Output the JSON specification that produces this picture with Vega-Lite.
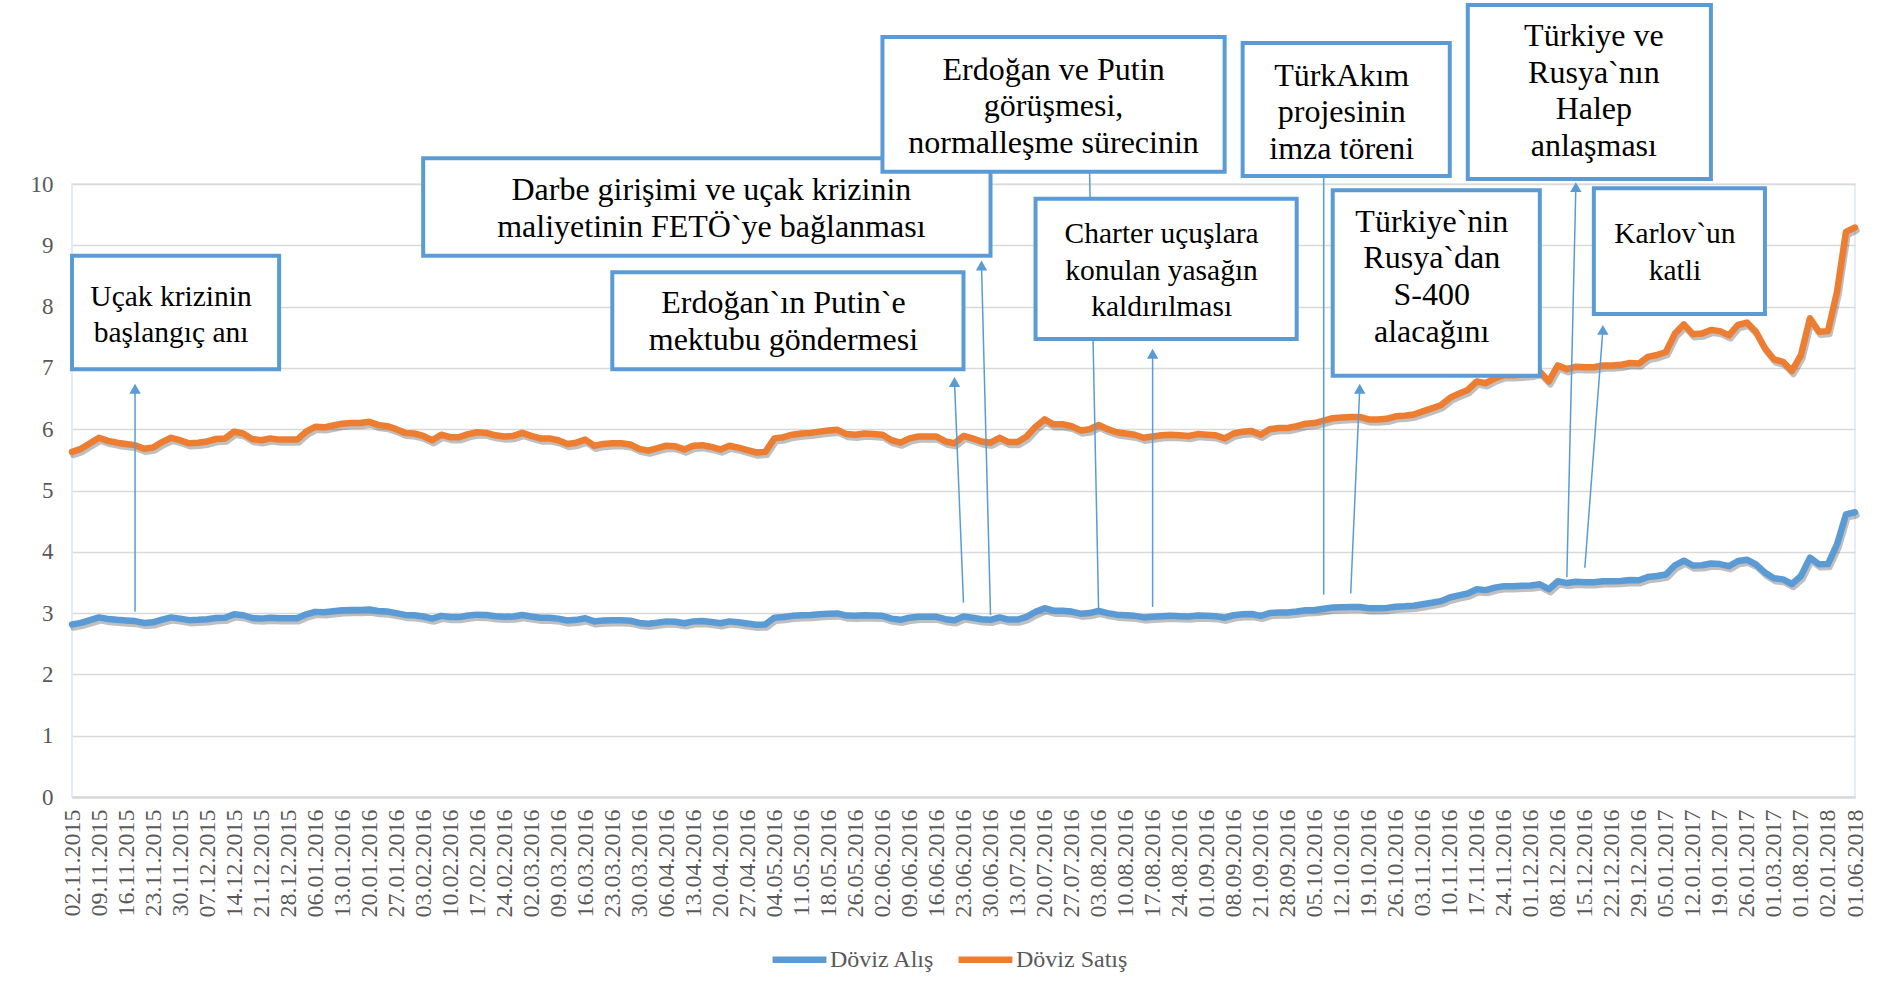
{
"$schema": "https://vega.github.io/schema/vega-lite/v6.json",
"width": 1783,
"height": 613,
"autosize": {"type": "none"},
"padding": {"left": 72, "top": 184, "right": 30, "bottom": 198},
"background": "white",
"config": {
  "view": {"stroke": "#dce6f2", "strokeWidth": 1.5},
  "font": "Liberation Serif",
  "axis": {"labelFont": "Liberation Serif", "labelColor": "#595959", "ticks": false}
},
"datasets": {
"kur": [
{"d":"02.11.2015","alis":2.815,"satis":5.63},{"d":"04.11.2015","alis":2.84,"satis":5.68},{"d":"06.11.2015","alis":2.885,"satis":5.77},
{"d":"09.11.2015","alis":2.93,"satis":5.86},{"d":"11.11.2015","alis":2.905,"satis":5.81},{"d":"13.11.2015","alis":2.89,"satis":5.78},
{"d":"16.11.2015","alis":2.88,"satis":5.76},{"d":"18.11.2015","alis":2.87,"satis":5.74},{"d":"20.11.2015","alis":2.84,"satis":5.68},
{"d":"23.11.2015","alis":2.85,"satis":5.70},{"d":"25.11.2015","alis":2.895,"satis":5.79},{"d":"27.11.2015","alis":2.93,"satis":5.86},
{"d":"30.11.2015","alis":2.91,"satis":5.82},{"d":"02.12.2015","alis":2.885,"satis":5.77},{"d":"04.12.2015","alis":2.89,"satis":5.78},
{"d":"07.12.2015","alis":2.90,"satis":5.80},{"d":"09.12.2015","alis":2.92,"satis":5.84},{"d":"11.12.2015","alis":2.925,"satis":5.85},
{"d":"14.12.2015","alis":2.98,"satis":5.96},{"d":"16.12.2015","alis":2.965,"satis":5.93},{"d":"18.12.2015","alis":2.92,"satis":5.84},
{"d":"21.12.2015","alis":2.91,"satis":5.82},{"d":"23.12.2015","alis":2.925,"satis":5.85},{"d":"25.12.2015","alis":2.915,"satis":5.83},
{"d":"28.12.2015","alis":2.915,"satis":5.83},{"d":"30.12.2015","alis":2.915,"satis":5.83},{"d":"04.01.2016","alis":2.98,"satis":5.96},
{"d":"06.01.2016","alis":3.02,"satis":6.04},{"d":"08.01.2016","alis":3.015,"satis":6.03},{"d":"11.01.2016","alis":3.03,"satis":6.06},
{"d":"13.01.2016","alis":3.045,"satis":6.09},{"d":"15.01.2016","alis":3.05,"satis":6.10},{"d":"18.01.2016","alis":3.05,"satis":6.10},
{"d":"20.01.2016","alis":3.06,"satis":6.12},{"d":"22.01.2016","alis":3.035,"satis":6.07},{"d":"25.01.2016","alis":3.025,"satis":6.05},
{"d":"27.01.2016","alis":3.00,"satis":6.00},{"d":"29.01.2016","alis":2.97,"satis":5.94},{"d":"01.02.2016","alis":2.965,"satis":5.93},
{"d":"03.02.2016","alis":2.945,"satis":5.89},{"d":"05.02.2016","alis":2.91,"satis":5.82},{"d":"08.02.2016","alis":2.955,"satis":5.91},
{"d":"10.02.2016","alis":2.935,"satis":5.87},{"d":"12.02.2016","alis":2.935,"satis":5.87},{"d":"15.02.2016","alis":2.96,"satis":5.92},
{"d":"17.02.2016","alis":2.975,"satis":5.95},{"d":"19.02.2016","alis":2.97,"satis":5.94},{"d":"22.02.2016","alis":2.95,"satis":5.90},
{"d":"24.02.2016","alis":2.94,"satis":5.88},{"d":"26.02.2016","alis":2.945,"satis":5.89},{"d":"29.02.2016","alis":2.97,"satis":5.94},
{"d":"02.03.2016","alis":2.945,"satis":5.89},{"d":"04.03.2016","alis":2.925,"satis":5.85},{"d":"07.03.2016","alis":2.925,"satis":5.85},
{"d":"09.03.2016","alis":2.91,"satis":5.82},{"d":"11.03.2016","alis":2.88,"satis":5.76},{"d":"14.03.2016","alis":2.89,"satis":5.78},
{"d":"16.03.2016","alis":2.915,"satis":5.83},{"d":"18.03.2016","alis":2.865,"satis":5.73},{"d":"21.03.2016","alis":2.88,"satis":5.76},
{"d":"23.03.2016","alis":2.885,"satis":5.77},{"d":"25.03.2016","alis":2.885,"satis":5.77},{"d":"28.03.2016","alis":2.875,"satis":5.75},
{"d":"30.03.2016","alis":2.84,"satis":5.68},{"d":"01.04.2016","alis":2.825,"satis":5.65},{"d":"04.04.2016","alis":2.845,"satis":5.69},
{"d":"06.04.2016","alis":2.865,"satis":5.73},{"d":"08.04.2016","alis":2.86,"satis":5.72},{"d":"11.04.2016","alis":2.835,"satis":5.67},
{"d":"13.04.2016","alis":2.865,"satis":5.73},{"d":"15.04.2016","alis":2.87,"satis":5.74},{"d":"18.04.2016","alis":2.855,"satis":5.71},
{"d":"20.04.2016","alis":2.835,"satis":5.67},{"d":"22.04.2016","alis":2.865,"satis":5.73},{"d":"25.04.2016","alis":2.85,"satis":5.70},
{"d":"27.04.2016","alis":2.83,"satis":5.66},{"d":"29.04.2016","alis":2.81,"satis":5.62},{"d":"02.05.2016","alis":2.815,"satis":5.63},
{"d":"04.05.2016","alis":2.925,"satis":5.85},{"d":"06.05.2016","alis":2.935,"satis":5.87},{"d":"09.05.2016","alis":2.955,"satis":5.91},
{"d":"11.05.2016","alis":2.965,"satis":5.93},{"d":"13.05.2016","alis":2.97,"satis":5.94},{"d":"16.05.2016","alis":2.98,"satis":5.96},
{"d":"18.05.2016","alis":2.99,"satis":5.98},{"d":"20.05.2016","alis":2.995,"satis":5.99},{"d":"24.05.2016","alis":2.96,"satis":5.92},
{"d":"26.05.2016","alis":2.955,"satis":5.91},{"d":"30.05.2016","alis":2.965,"satis":5.93},{"d":"31.05.2016","alis":2.96,"satis":5.92},
{"d":"02.06.2016","alis":2.955,"satis":5.91},{"d":"06.06.2016","alis":2.91,"satis":5.82},{"d":"07.06.2016","alis":2.89,"satis":5.78},
{"d":"09.06.2016","alis":2.925,"satis":5.85},{"d":"13.06.2016","alis":2.94,"satis":5.88},{"d":"14.06.2016","alis":2.94,"satis":5.88},
{"d":"16.06.2016","alis":2.94,"satis":5.88},{"d":"20.06.2016","alis":2.90,"satis":5.80},{"d":"21.06.2016","alis":2.885,"satis":5.77},
{"d":"23.06.2016","alis":2.945,"satis":5.89},{"d":"27.06.2016","alis":2.925,"satis":5.85},{"d":"28.06.2016","alis":2.90,"satis":5.80},
{"d":"30.06.2016","alis":2.89,"satis":5.78},{"d":"08.07.2016","alis":2.93,"satis":5.86},{"d":"11.07.2016","alis":2.895,"satis":5.79},
{"d":"13.07.2016","alis":2.895,"satis":5.79},{"d":"15.07.2016","alis":2.94,"satis":5.88},{"d":"18.07.2016","alis":3.02,"satis":6.04},
{"d":"20.07.2016","alis":3.08,"satis":6.16},{"d":"22.07.2016","alis":3.04,"satis":6.08},{"d":"25.07.2016","alis":3.04,"satis":6.08},
{"d":"27.07.2016","alis":3.025,"satis":6.05},{"d":"29.07.2016","alis":2.99,"satis":5.98},{"d":"01.08.2016","alis":3.00,"satis":6.00},
{"d":"03.08.2016","alis":3.035,"satis":6.07},{"d":"05.08.2016","alis":3.00,"satis":6.00},{"d":"08.08.2016","alis":2.975,"satis":5.95},
{"d":"10.08.2016","alis":2.965,"satis":5.93},{"d":"12.08.2016","alis":2.955,"satis":5.91},{"d":"15.08.2016","alis":2.93,"satis":5.86},
{"d":"17.08.2016","alis":2.94,"satis":5.88},{"d":"19.08.2016","alis":2.95,"satis":5.90},{"d":"22.08.2016","alis":2.955,"satis":5.91},
{"d":"24.08.2016","alis":2.95,"satis":5.90},{"d":"26.08.2016","alis":2.945,"satis":5.89},{"d":"30.08.2016","alis":2.96,"satis":5.92},
{"d":"01.09.2016","alis":2.955,"satis":5.91},{"d":"05.09.2016","alis":2.95,"satis":5.90},{"d":"06.09.2016","alis":2.925,"satis":5.85},
{"d":"08.09.2016","alis":2.965,"satis":5.93},{"d":"19.09.2016","alis":2.98,"satis":5.96},{"d":"20.09.2016","alis":2.985,"satis":5.97},
{"d":"21.09.2016","alis":2.955,"satis":5.91},{"d":"23.09.2016","alis":3.00,"satis":6.00},{"d":"26.09.2016","alis":3.01,"satis":6.02},
{"d":"28.09.2016","alis":3.01,"satis":6.02},{"d":"30.09.2016","alis":3.025,"satis":6.05},{"d":"03.10.2016","alis":3.045,"satis":6.09},
{"d":"05.10.2016","alis":3.05,"satis":6.10},{"d":"07.10.2016","alis":3.07,"satis":6.14},{"d":"10.10.2016","alis":3.09,"satis":6.18},
{"d":"12.10.2016","alis":3.095,"satis":6.19},{"d":"14.10.2016","alis":3.10,"satis":6.20},{"d":"17.10.2016","alis":3.10,"satis":6.20},
{"d":"19.10.2016","alis":3.08,"satis":6.16},{"d":"21.10.2016","alis":3.08,"satis":6.16},{"d":"24.10.2016","alis":3.085,"satis":6.17},
{"d":"26.10.2016","alis":3.105,"satis":6.21},{"d":"28.10.2016","alis":3.11,"satis":6.22},{"d":"01.11.2016","alis":3.12,"satis":6.24},
{"d":"03.11.2016","alis":3.145,"satis":6.29},{"d":"07.11.2016","alis":3.17,"satis":6.34},{"d":"08.11.2016","alis":3.195,"satis":6.39},
{"d":"10.11.2016","alis":3.255,"satis":6.51},{"d":"14.11.2016","alis":3.29,"satis":6.58},{"d":"15.11.2016","alis":3.32,"satis":6.64},
{"d":"17.11.2016","alis":3.39,"satis":6.78},{"d":"21.11.2016","alis":3.375,"satis":6.75},{"d":"22.11.2016","alis":3.415,"satis":6.83},
{"d":"24.11.2016","alis":3.44,"satis":6.88},{"d":"28.11.2016","alis":3.44,"satis":6.88},{"d":"29.11.2016","alis":3.445,"satis":6.89},
{"d":"01.12.2016","alis":3.45,"satis":6.90},{"d":"05.12.2016","alis":3.47,"satis":6.94},{"d":"06.12.2016","alis":3.39,"satis":6.78},
{"d":"08.12.2016","alis":3.52,"satis":7.04},{"d":"12.12.2016","alis":3.49,"satis":6.98},{"d":"13.12.2016","alis":3.51,"satis":7.02},
{"d":"15.12.2016","alis":3.505,"satis":7.01},{"d":"19.12.2016","alis":3.505,"satis":7.01},{"d":"20.12.2016","alis":3.52,"satis":7.04},
{"d":"22.12.2016","alis":3.52,"satis":7.04},{"d":"26.12.2016","alis":3.525,"satis":7.05},{"d":"27.12.2016","alis":3.54,"satis":7.08},
{"d":"29.12.2016","alis":3.535,"satis":7.07},{"d":"02.01.2017","alis":3.59,"satis":7.18},{"d":"03.01.2017","alis":3.605,"satis":7.21},
{"d":"05.01.2017","alis":3.63,"satis":7.26},{"d":"09.01.2017","alis":3.78,"satis":7.56},{"d":"10.01.2017","alis":3.855,"satis":7.71},
{"d":"12.01.2017","alis":3.775,"satis":7.55},{"d":"16.01.2017","alis":3.78,"satis":7.56},{"d":"17.01.2017","alis":3.81,"satis":7.62},
{"d":"19.01.2017","alis":3.80,"satis":7.60},{"d":"23.01.2017","alis":3.765,"satis":7.53},{"d":"24.01.2017","alis":3.85,"satis":7.70},
{"d":"26.01.2017","alis":3.87,"satis":7.74},{"d":"08.02.2017","alis":3.795,"satis":7.59},{"d":"20.02.2017","alis":3.66,"satis":7.32},
{"d":"01.03.2017","alis":3.57,"satis":7.14},{"d":"03.04.2017","alis":3.55,"satis":7.10},{"d":"01.06.2017","alis":3.475,"satis":6.95},
{"d":"01.08.2017","alis":3.605,"satis":7.21},{"d":"02.10.2017","alis":3.905,"satis":7.81},{"d":"01.11.2017","alis":3.795,"satis":7.59},
{"d":"02.01.2018","alis":3.80,"satis":7.60},{"d":"01.03.2018","alis":4.12,"satis":8.24},{"d":"02.04.2018","alis":4.61,"satis":9.22},
{"d":"01.06.2018","alis":4.645,"satis":9.29}
],
"boxes": [
{"id":"ucak","text":"Uçak krizinin\nbaşlangıç anı","x1":"02.11.2015","x2":"25.12.2015","top":8.83,"bottom":6.98,"tx":"27.11.2015","ty":8.39},
{"id":"darbe","text":"Darbe girişimi ve uçak krizinin\nmaliyetinin FETÖ`ye bağlanması","x1":"03.02.2016","x2":"30.06.2016","top":10.42,"bottom":8.83,"tx":"18.04.2016","ty":10.14},
{"id":"mektup","text":"Erdoğan`ın Putin`e\nmektubu göndermesi","x1":"23.03.2016","x2":"23.06.2016","top":8.56,"bottom":6.98,"tx":"06.05.2016","ty":8.30},
{"id":"gorusme","text":"Erdoğan ve Putin\ngörüşmesi,\nnormalleşme sürecinin","x1":"02.06.2016","x2":"06.09.2016","top":12.40,"bottom":10.20,"tx":"22.07.2016","ty":12.11},
{"id":"charter","text":"Charter uçuşlara\nkonulan yasağın\nkaldırılması","x1":"18.07.2016","x2":"30.09.2016","top":9.76,"bottom":7.47,"tx":"19.08.2016","ty":9.41},
{"id":"turkakim","text":"TürkAkım\nprojesinin\nimza töreni","x1":"19.09.2016","x2":"10.11.2016","top":12.30,"bottom":10.13,"tx":"12.10.2016","ty":12.01},
{"id":"s400","text":"Türkiye`nin\nRusya`dan\nS-400\nalacağını","x1":"10.10.2016","x2":"05.12.2016","top":9.90,"bottom":6.87,"tx":"07.11.2016","ty":9.63},
{"id":"halep","text":"Türkiye ve\nRusya`nın\nHalep\nanlaşması","x1":"15.11.2016","x2":"17.01.2017","top":12.92,"bottom":10.08,"tx":"19.12.2016","ty":12.66},
{"id":"karlov","text":"Karlov`un\nkatli","x1":"19.12.2016","x2":"20.02.2017","top":9.93,"bottom":7.88,"tx":"09.01.2017","ty":9.41}
],
"arrows": [
{"x1":"18.11.2015","y1":3.02,"x2":"18.11.2015","y2":6.66},
{"x1":"23.06.2016","y1":3.17,"x2":"21.06.2016","y2":6.77},
{"x1":"30.06.2016","y1":2.97,"x2":"28.06.2016","y2":8.67},
{"x1":"17.08.2016","y1":3.10,"x2":"17.08.2016","y2":7.23},
{"x1":"14.10.2016","y1":3.32,"x2":"17.10.2016","y2":6.66},
{"x1":"12.12.2016","y1":3.59,"x2":"13.12.2016","y2":9.95},
{"x1":"15.12.2016","y1":3.74,"x2":"20.12.2016","y2":7.62}
],
"links": [
{"x1":"03.08.2016","y1":3.08,"x2":"01.08.2016","y2":10.2},
{"x1":"07.10.2016","y1":3.30,"x2":"07.10.2016","y2":10.13}
]
},
"layer": [
{
  "data": {"name": "kur"},
  "transform": [{"fold": ["alis", "satis"], "as": ["seri", "kur"]}],
  "mark": {"type": "line", "stroke": "#000000", "opacity": 0.25, "strokeWidth": 6.5, "xOffset": 1.5, "yOffset": 3, "strokeJoin": "round", "strokeCap": "round"},
  "encoding": {
    "x": {"field": "d", "type": "ordinal", "sort": null, "scale": {"type": "point", "padding": 0}, "title": null},
    "y": {"field": "kur", "type": "quantitative", "scale": {"domain": [0, 10], "nice": false}, "title": null},
    "detail": {"field": "seri", "type": "nominal"}
  }
},
{
  "data": {"name": "kur"},
  "transform": [{"fold": ["alis", "satis"], "as": ["seri", "kur"]}],
  "mark": {"type": "line", "strokeWidth": 6.5, "strokeJoin": "round", "strokeCap": "round"},
  "encoding": {
    "x": {"field": "d", "type": "ordinal", "sort": null, "scale": {"type": "point", "padding": 0}, "title": null,
      "axis": {"values": ["02.11.2015","09.11.2015","16.11.2015","23.11.2015","30.11.2015","07.12.2015","14.12.2015","21.12.2015","28.12.2015","06.01.2016","13.01.2016","20.01.2016","27.01.2016","03.02.2016","10.02.2016","17.02.2016","24.02.2016","02.03.2016","09.03.2016","16.03.2016","23.03.2016","30.03.2016","06.04.2016","13.04.2016","20.04.2016","27.04.2016","04.05.2016","11.05.2016","18.05.2016","26.05.2016","02.06.2016","09.06.2016","16.06.2016","23.06.2016","30.06.2016","13.07.2016","20.07.2016","27.07.2016","03.08.2016","10.08.2016","17.08.2016","24.08.2016","01.09.2016","08.09.2016","21.09.2016","28.09.2016","05.10.2016","12.10.2016","19.10.2016","26.10.2016","03.11.2016","10.11.2016","17.11.2016","24.11.2016","01.12.2016","08.12.2016","15.12.2016","22.12.2016","29.12.2016","05.01.2017","12.01.2017","19.01.2017","26.01.2017","01.03.2017","01.08.2017","02.01.2018","01.06.2018"],
        "labelAngle": -90, "labelFont": "Liberation Serif", "labelFontSize": 24, "labelPadding": 12, "labelOverlap": false, "labelFlush": false,
        "domain": true, "domainColor": "#d9d9d9", "domainWidth": 2.5, "grid": false, "ticks": false}},
    "y": {"field": "kur", "type": "quantitative", "scale": {"domain": [0, 10], "nice": false}, "title": null,
      "axis": {"values": [0,1,2,3,4,5,6,7,8,9,10], "format": "d", "labelFont": "Liberation Serif", "labelFontSize": 23, "labelPadding": 19, "grid": true, "gridColor": "#d9d9d9", "gridWidth": 1.3, "domain": false, "ticks": false}},
    "color": {"field": "seri", "type": "nominal",
      "scale": {"domain": ["alis", "satis"], "range": ["#5B9BD5", "#ED7D31"]},
      "legend": {"orient": "none", "legendX": 697, "legendY": 745, "direction": "horizontal", "title": null,
        "symbolType": "stroke", "symbolSize": 2900, "symbolStrokeWidth": 6.5,
        "labelFont": "Liberation Serif", "labelFontSize": 24, "labelColor": "#595959", "labelOffset": 0, "columnPadding": 10,
        "labelExpr": "datum.value == 'alis' ? 'Döviz Alış' : 'Döviz Satış'"}}
  }
},
{
  "data": {"name": "links"},
  "mark": {"type": "rule", "color": "#5B9BD5", "strokeWidth": 1.5},
  "encoding": {
    "x": {"field": "x1", "type": "ordinal", "sort": null, "scale": {"type": "point", "padding": 0}, "title": null},
    "x2": {"field": "x2"},
    "y": {"field": "y1", "type": "quantitative", "scale": {"domain": [0, 10], "nice": false}, "title": null},
    "y2": {"field": "y2"}
  }
},
{
  "data": {"name": "arrows"},
  "mark": {"type": "rule", "color": "#5B9BD5", "strokeWidth": 1.5},
  "encoding": {
    "x": {"field": "x1", "type": "ordinal", "sort": null, "scale": {"type": "point", "padding": 0}, "title": null},
    "x2": {"field": "x2"},
    "y": {"field": "y1", "type": "quantitative", "scale": {"domain": [0, 10], "nice": false}, "title": null},
    "y2": {"field": "y2"}
  }
},
{
  "data": {"name": "arrows"},
  "mark": {"type": "point", "shape": "triangle-up", "filled": true, "size": 130, "color": "#5B9BD5", "opacity": 1},
  "encoding": {
    "x": {"field": "x2", "type": "ordinal", "sort": null, "scale": {"type": "point", "padding": 0}, "title": null},
    "y": {"field": "y2", "type": "quantitative", "scale": {"domain": [0, 10], "nice": false}, "title": null}
  }
},
{
  "data": {"name": "boxes"},
  "mark": {"type": "rect", "fill": "white", "stroke": "#5B9BD5", "strokeWidth": 4},
  "encoding": {
    "x": {"field": "x1", "type": "ordinal", "sort": null, "scale": {"type": "point", "padding": 0}, "title": null},
    "x2": {"field": "x2"},
    "y": {"field": "top", "type": "quantitative", "scale": {"domain": [0, 10], "nice": false}, "title": null},
    "y2": {"field": "bottom"}
  }
},
{
  "data": {"name": "boxes"},
  "transform": [{"filter": {"field": "id", "oneOf": ["ucak", "charter", "karlov"]}}],
  "mark": {"type": "text", "font": "Liberation Serif", "fontSize": 29.5, "lineHeight": 36.5, "baseline": "top", "align": "center", "lineBreak": "\n", "color": "#000000"},
  "encoding": {
    "x": {"field": "tx", "type": "ordinal", "sort": null, "scale": {"type": "point", "padding": 0}, "title": null},
    "y": {"field": "ty", "type": "quantitative", "scale": {"domain": [0, 10], "nice": false}, "title": null},
    "text": {"field": "text", "type": "nominal"}
  }
},
{
  "data": {"name": "boxes"},
  "transform": [{"filter": {"field": "id", "oneOf": ["darbe", "mektup", "gorusme", "turkakim", "s400", "halep"]}}],
  "mark": {"type": "text", "font": "Liberation Serif", "fontSize": 32, "lineHeight": 36.7, "baseline": "top", "align": "center", "lineBreak": "\n", "color": "#000000"},
  "encoding": {
    "x": {"field": "tx", "type": "ordinal", "sort": null, "scale": {"type": "point", "padding": 0}, "title": null},
    "y": {"field": "ty", "type": "quantitative", "scale": {"domain": [0, 10], "nice": false}, "title": null},
    "text": {"field": "text", "type": "nominal"}
  }
}
]
}
